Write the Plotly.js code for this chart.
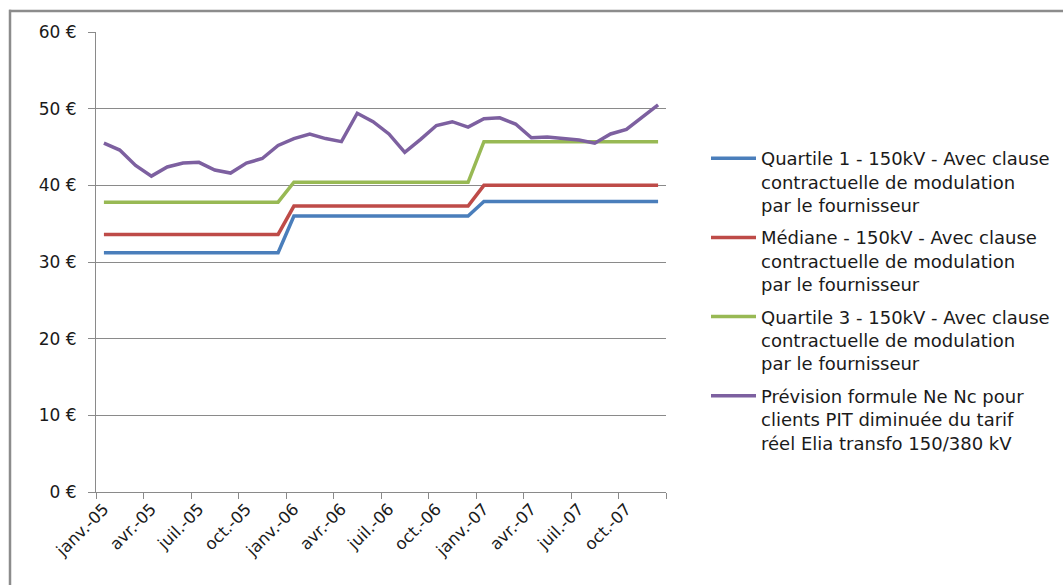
<!DOCTYPE html>
<html>
<head>
<meta charset="utf-8">
<script src="https://cdn.plot.ly/plotly-3.0.1.min.js"></script>
<style>
  html, body { margin: 0; padding: 0; background: #fff; }
  #chart { width: 1063px; height: 585px; }
</style>
</head>
<body>
<div id="chart"></div>
<script>
// ---- Data ----
const months = [
  "janv.-05","févr.-05","mars-05","avr.-05","mai-05","juin-05","juil.-05","août-05","sept.-05","oct.-05","nov.-05","déc.-05",
  "janv.-06","févr.-06","mars-06","avr.-06","mai-06","juin-06","juil.-06","août-06","sept.-06","oct.-06","nov.-06","déc.-06",
  "janv.-07","févr.-07","mars-07","avr.-07","mai-07","juin-07","juil.-07","août-07","sept.-07","oct.-07","nov.-07","déc.-07"
];
const tickLabels = ["janv.-05","avr.-05","juil.-05","oct.-05","janv.-06","avr.-06","juil.-06","oct.-06","janv.-07","avr.-07","juil.-07","oct.-07"];

const quartile1 = [
  31.2,31.2,31.2,31.2,31.2,31.2,31.2,31.2,31.2,31.2,31.2,31.2,
  36.0,36.0,36.0,36.0,36.0,36.0,36.0,36.0,36.0,36.0,36.0,36.0,
  37.9,37.9,37.9,37.9,37.9,37.9,37.9,37.9,37.9,37.9,37.9,37.9
];
const mediane = [
  33.6,33.6,33.6,33.6,33.6,33.6,33.6,33.6,33.6,33.6,33.6,33.6,
  37.3,37.3,37.3,37.3,37.3,37.3,37.3,37.3,37.3,37.3,37.3,37.3,
  40.0,40.0,40.0,40.0,40.0,40.0,40.0,40.0,40.0,40.0,40.0,40.0
];
const quartile3 = [
  37.8,37.8,37.8,37.8,37.8,37.8,37.8,37.8,37.8,37.8,37.8,37.8,
  40.4,40.4,40.4,40.4,40.4,40.4,40.4,40.4,40.4,40.4,40.4,40.4,
  45.7,45.7,45.7,45.7,45.7,45.7,45.7,45.7,45.7,45.7,45.7,45.7
];
const prevision = [
  45.5,44.6,42.6,41.2,42.4,42.9,43.0,42.0,41.6,42.9,43.5,45.2,
  46.1,46.7,46.1,45.7,49.4,48.3,46.7,44.3,46.0,47.8,48.3,47.6,
  48.7,48.8,48.0,46.2,46.3,46.1,45.9,45.5,46.7,47.3,48.9,50.5
];

const seriesNames = [
  "Quartile 1 - 150kV - Avec clause<br>contractuelle de modulation<br>par le fournisseur",
  "Médiane - 150kV - Avec clause<br>contractuelle de modulation<br>par le fournisseur",
  "Quartile 3 - 150kV - Avec clause<br>contractuelle de modulation<br>par le fournisseur",
  "Prévision formule Ne Nc pour<br>clients PIT diminuée du tarif<br>réel Elia transfo 150/380 kV"
];
const seriesColors = ["#4A7EBB", "#BE4B48", "#98B954", "#7D60A0"];
const seriesValues = [quartile1, mediane, quartile3, prevision];

// ---- Build ----
const xIdx = months.map((m, i) => i);
const traces = seriesValues.map((vals, k) => ({
  type: "scatter",
  mode: "lines",
  x: xIdx,
  y: vals,
  name: seriesNames[k],
  legendgroup: "g" + k,
  line: { color: seriesColors[k], width: 3.5 },
  text: months,
  hoverinfo: "text+y"
}));

const W = 1063, H = 585;
const M = { l: 96, r: 397, t: 32, b: 93 };
const pw = W - M.l - M.r, ph = H - M.t - M.b;
const px = v => (v - M.l) / pw;
const py = v => (H - M.b - v) / ph;

const tickPos = tickLabels.map(t => months.indexOf(t));
const FONT = "DejaVu Sans, Verdana, sans-serif";

const layout = {
  width: W, height: H,
  margin: M,
  paper_bgcolor: "#fff",
  plot_bgcolor: "#fff",
  font: { family: FONT, size: 16, color: "#1a1a1a" },
  showlegend: true,
  legend: {
    xref: "container", yref: "container",
    x: 706 / W, xanchor: "left",
    y: 1 - 140 / H, yanchor: "top",
    maxheight: 1,
    traceorder: "grouped",
    tracegroupgap: 6,
    itemwidth: 45,
    valign: "top",
    font: { family: FONT, size: 18, color: "#1a1a1a" },
    bgcolor: "rgba(0,0,0,0)"
  },
  xaxis: {
    range: [-0.5, months.length - 0.5],
    tickmode: "array",
    tickvals: tickPos,
    ticktext: tickLabels,
    tickangle: -45,
    ticks: "",
    showgrid: false,
    zeroline: false,
    showline: true,
    linecolor: "#8a8a8a",
    linewidth: 1,
    tickfont: { family: FONT, size: 16.5, color: "#1a1a1a" },
    minor: { tick0: -0.5, dtick: 3, ticks: "outside", ticklen: 6, tickcolor: "#8a8a8a", tickwidth: 1, showgrid: false },
    fixedrange: true
  },
  yaxis: {
    range: [0, 60],
    dtick: 10,
    tick0: 0,
    ticksuffix: " €",
    ticks: "outside",
    ticklen: 7,
    tickcolor: "#8a8a8a",
    ticklabelstandoff: 8,
    showgrid: true,
    gridcolor: "#8a8a8a",
    gridwidth: 1,
    zeroline: false,
    showline: true,
    linecolor: "#8a8a8a",
    linewidth: 1,
    tickfont: { family: FONT, size: 17, color: "#1a1a1a" },
    fixedrange: true
  },
  shapes: [
    { type: "line", xref: "paper", yref: "paper", x0: px(9), x1: px(1075), y0: py(11), y1: py(11),
      line: { color: "#8c8c8c", width: 2.5 } },
    { type: "line", xref: "paper", yref: "paper", x0: px(10), x1: px(10), y0: py(9.8), y1: py(600),
      line: { color: "#8c8c8c", width: 2.5 } }
  ]
};

Plotly.newPlot("chart", traces, layout, { displayModeBar: false, staticPlot: true });
</script>
</body>
</html>
